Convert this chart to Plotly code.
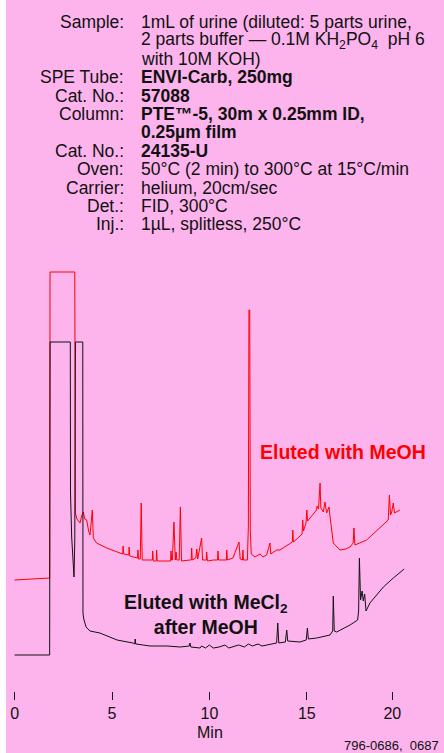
import plotly.graph_objects as go

# ---------------- data ----------------
# MeOH eluate (red trace): retention time (min) and detector response (arb. units)
MEOH_TIME = [0.00, 1.00, 1.80, 1.82, 3.09, 3.12, 3.20, 3.28, 3.36, 3.44, 3.53, 3.60, 3.70, 3.80,
             3.87, 3.99, 4.04, 4.21, 4.73, 5.41, 5.55, 5.57, 5.60, 5.86, 5.88, 5.91, 6.08, 6.31,
             6.33, 6.36, 6.45, 6.50, 6.55, 6.95, 7.07, 7.09, 7.12, 7.27, 7.29, 7.32, 7.82, 8.01,
             8.03, 8.06, 8.10, 8.18, 8.25, 8.29, 8.33, 8.45, 8.51, 8.57, 9.00, 9.07, 9.09, 9.12,
             9.30, 9.35, 9.40, 9.60, 9.65, 9.84, 9.86, 9.90, 10.20, 10.42, 10.44, 10.47, 10.70,
             10.87, 10.89, 10.92, 11.21, 11.52, 11.58, 11.70, 11.72, 11.75, 11.95, 12.00, 12.03,
             12.07, 12.10, 12.15, 12.34, 12.60, 12.75, 12.94, 13.11, 13.15, 13.45, 13.62, 14.10,
             14.26, 14.28, 14.31, 14.60, 14.76, 14.79, 14.83, 14.96, 15.00, 15.04, 15.30, 15.50,
             15.53, 15.60, 15.68, 15.72, 15.85, 15.93, 16.02, 16.14, 16.19, 16.36, 16.70, 17.00,
             17.22, 17.38, 17.42, 17.47, 18.07, 18.76, 19.18, 19.24, 19.30, 19.36, 19.44, 19.50,
             19.78]
MEOH_SIGNAL = [111, 112, 113, 419, 419, 178, 172, 170, 168, 175, 179, 172, 171, 160,
               156, 181, 153, 148, 143, 138, 137, 145, 137, 136, 144, 135, 134, 133,
               141, 132, 132, 188, 131, 131, 131, 140, 130, 130, 141, 130, 130, 130,
               140, 131, 131, 169, 131, 139, 131, 131, 184, 130, 131, 131, 143, 131,
               133, 142, 132, 153, 131, 131, 139, 130, 131, 131, 140, 131, 131,
               131, 141, 131, 133, 149, 132, 131, 141, 131, 131, 165, 381,
               381, 160, 137, 134, 137, 134, 136, 148, 137, 141, 141, 147,
               149, 161, 149, 154, 157, 171, 160, 168, 181, 170, 176, 181,
               185, 182, 208, 183, 179, 189, 178, 184, 175, 148, 141, 142,
               144, 148, 163, 146, 151, 163, 171, 196, 176, 179, 188, 178,
               181]

# MeCl2 eluate after MeOH (black trace)
MECL2_TIME = [0.00, 1.80, 1.82, 2.86, 2.87, 2.93, 3.05, 3.09, 3.12, 3.50, 3.51, 3.55, 3.67, 3.87,
              4.38, 5.26, 6.08, 6.17, 6.19, 6.22, 6.60, 6.95, 7.82, 8.50, 8.97, 9.00, 9.05, 9.52,
              9.60, 9.80, 10.00, 10.20, 10.50, 10.80, 11.00, 11.21, 11.50, 11.80, 12.00, 12.20,
              12.50, 12.70, 12.94, 13.45, 13.51, 13.56, 13.90, 13.97, 14.02, 14.65, 14.97, 15.03,
              15.08, 15.51, 16.19, 16.33, 16.36, 16.41, 16.53, 17.22, 17.61, 17.66, 17.70, 17.76,
              17.84, 17.90, 17.97, 18.04, 18.24, 18.93, 19.44, 20.00]
MECL2_SIGNAL = [36, 36, 349, 349, 198, 154, 114, 150, 349, 349, 78, 72, 64, 60,
                58, 51, 48, 47, 52, 47, 46, 45, 45, 44, 45, 48, 44, 43,
                45, 43, 46, 43, 44, 46, 43, 44, 46, 44, 47, 45,
                47, 45, 46, 48, 68, 48, 49, 61, 50, 49, 51, 63,
                52, 53, 56, 60, 95, 60, 59, 66, 71, 80, 133, 91,
                100, 90, 97, 80, 88, 104, 113, 122]

TICK_LABELS = ["0", "5", "10", "15", "20"]
TICK_POSITIONS = [0, 5, 10, 15, 19.39]

COND_LABELS = ["Sample:", "", "", "SPE Tube:", "Cat. No.:", "Column:", "", "Cat. No.:",
               "Oven:", "Carrier:", "Det.:", "Inj.:"]
COND_VALUES = ["1mL of urine (diluted: 5 parts urine,",
               "2 parts buffer \u2014 0.1M KH<sub>2</sub>PO<sub>4</sub>\u00a0\u00a0pH 6",
               "with 10M KOH)",
               "<b>ENVI-Carb, 250mg</b>",
               "<b>57088</b>",
               "<b>PTE\u2122-5, 30m x 0.25mm ID,</b>",
               "<b>0.25\u00b5m film</b>",
               "<b>24135-U</b>",
               "50\u00b0C (2 min) to 300\u00b0C at 15\u00b0C/min",
               "helium, 20cm/sec",
               "FID, 300\u00b0C",
               "1\u00b5L, splitless, 250\u00b0C"]

# ---------------- layout helpers ----------------
W, H = 444, 753
ML, MR, MT, MB = 6, 0, 0, 62
PW, PH = W - ML - MR, H - MT - MB
PINK = "#FDB4ED"
FONT = "Liberation Sans, Arial, Helvetica, sans-serif"


def px(x):
    return (x - ML) / PW


def py(y):
    return (MT + PH - y) / PH


fig = go.Figure()
fig.add_trace(go.Scatter(x=MEOH_TIME, y=MEOH_SIGNAL, mode="lines",
                         line=dict(color="#FF0000", width=1), hoverinfo="skip"))
fig.add_trace(go.Scatter(x=MECL2_TIME, y=MECL2_SIGNAL, mode="lines",
                         line=dict(color="#111111", width=1), hoverinfo="skip"))

ann = []
y0 = 22
for i, (lab, val) in enumerate(zip(COND_LABELS, COND_VALUES)):
    yy = y0 + 18.4 * i
    if lab:
        ann.append(dict(x=px(126), y=py(yy), xref="paper", yref="paper", text=lab,
                        showarrow=False, xanchor="right", yanchor="middle",
                        font=dict(family=FONT, size=17.5, color="#111111")))
    ann.append(dict(x=px(139), y=py(yy), xref="paper", yref="paper", text=val,
                    showarrow=False, xanchor="left", yanchor="middle",
                    font=dict(family=FONT, size=17.5, color="#111111")))

ann.append(dict(x=px(343), y=py(452), xref="paper", yref="paper", text="<b>Eluted with MeOH</b>",
                showarrow=False, xanchor="center", yanchor="middle",
                font=dict(family=FONT, size=19.5, color="#FF0000")))
ann.append(dict(x=px(206), y=py(614), xref="paper", yref="paper",
                text="<b>Eluted with MeCl<sub>2</sub><br>after MeOH</b>",
                showarrow=False, xanchor="center", yanchor="middle", align="center",
                font=dict(family=FONT, size=19.5, color="#111111")))
ann.append(dict(x=px(210), y=py(732), xref="paper", yref="paper", text="Min",
                showarrow=False, xanchor="center", yanchor="middle",
                font=dict(family=FONT, size=16, color="#111111")))
ann.append(dict(x=px(441), y=py(745), xref="paper", yref="paper", text="796-0686,\u00a0\u00a00687",
                showarrow=False, xanchor="right", yanchor="middle",
                font=dict(family=FONT, size=13, color="#111111")))

x0 = -(14.6 - ML) / 19.48
x1 = x0 + PW / 19.48

fig.update_layout(
    width=W, height=H,
    margin=dict(l=ML, r=MR, t=MT, b=MB, pad=0),
    paper_bgcolor=PINK, plot_bgcolor=PINK,
    showlegend=False,
    annotations=ann,
    shapes=[dict(type="rect", xref="paper", yref="paper", x0=px(-2), x1=px(ML), y0=-0.2, y1=1.1,
                 fillcolor="white", line=dict(width=0), layer="above")],
    xaxis=dict(range=[x0, x1], showgrid=False, zeroline=False, showline=False,
               ticks="outside", ticklen=8, tickwidth=1, tickcolor="#111111",
               tickvals=TICK_POSITIONS, ticktext=TICK_LABELS,
               tickfont=dict(family=FONT, size=16, color="#111111")),
    yaxis=dict(range=[0, PH], visible=False, showgrid=False, zeroline=False),
)

fig.write_html("out.html",
               config={"displayModeBar": False, "staticPlot": True},
               post_script="document.body.style.margin='0';document.body.style.overflow='hidden';")
